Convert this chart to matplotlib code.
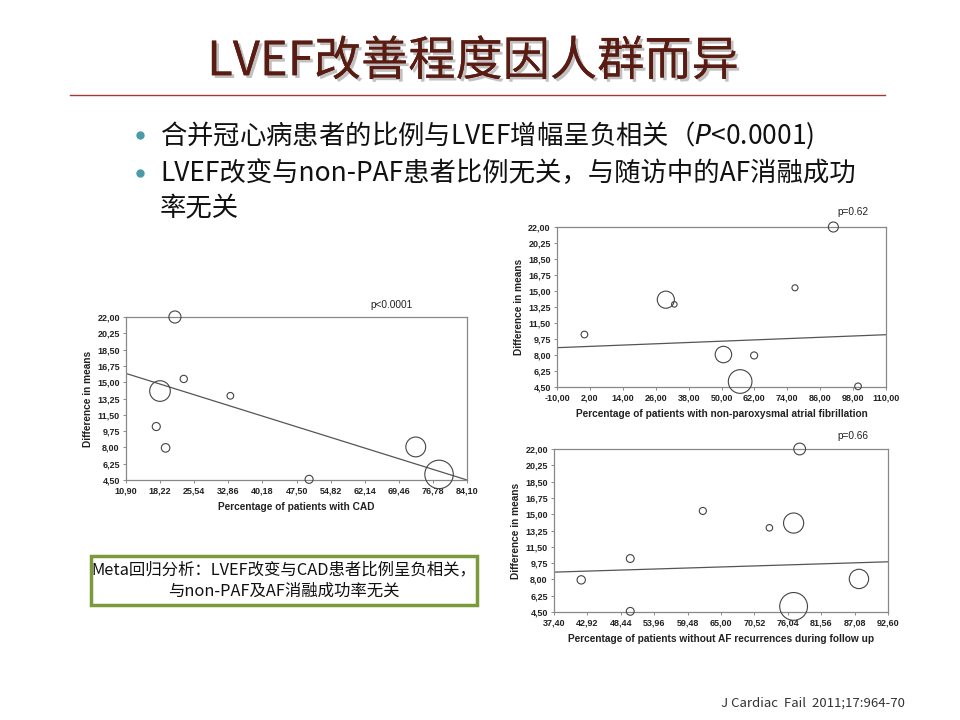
import numpy as np
import matplotlib
matplotlib.use('Agg')
import matplotlib.pyplot as plt
from matplotlib.patches import Rectangle
import matplotlib.patheffects as pe

plt.rcParams['font.family'] = ['Noto Sans CJK SC', 'DejaVu Sans']

# studies (same 9 studies in every panel)
diff_means = [22.00, 15.35, 14.05, 13.54, 10.24, 8.05, 7.95, 5.10, 4.57]
weights = [36, 13, 105, 11, 16, 97, 18, 200, 16]
pct_cad = [21.4, 23.3, 18.2, 33.3, 17.4, 73.1, 19.4, 78.1, 50.2]
pct_nonpaf = [90.8, 76.8, 29.7, 32.8, 0.0, 50.7, 61.9, 56.8, 99.8]
pct_success = [78.0, 62.0, 77.0, 73.0, 50.0, 87.8, 41.9, 77.0, 50.0]

# regression lines (value at left and right edge of x range)
reg_cad = [15.94, 4.50]
reg_nonpaf = [8.80, 10.22]
reg_success = [8.78, 9.89]

yticks = [4.50, 6.25, 8.00, 9.75, 11.50, 13.25, 15.00, 16.75, 18.50, 20.25, 22.00]
xt_cad = [10.90, 18.22, 25.54, 32.86, 40.18, 47.50, 54.82, 62.14, 69.46, 76.78, 84.10]
xt_nonpaf = [-10, 2, 14, 26, 38, 50, 62, 74, 86, 98, 110]
xt_success = [37.40, 42.92, 48.44, 53.96, 59.48, 65.00, 70.52, 76.04, 81.56, 87.08, 92.60]

W, H = 960, 720
fig = plt.figure(figsize=(9.6, 7.2), dpi=100)
fig.patch.set_facecolor('white')

def px_rect(l, t, r, b):
    return [l / W, 1 - b / H, (r - l) / W, (b - t) / H]

def fmt(v):
    return ('%.2f' % v).replace('.', ',')

def panel(rect, xs, xticks, reg, xlabel, ptext, ptxt_xy, scale):
    ax = fig.add_axes(px_rect(*rect))
    ax.scatter(xs, diff_means, s=[w * scale for w in weights], facecolors='none',
               edgecolors='#444444', linewidths=0.8, clip_on=False, zorder=3)
    ax.plot([xticks[0], xticks[-1]], reg, color='#555555', lw=0.9)
    ax.set_xlim(xticks[0], xticks[-1])
    ax.set_ylim(yticks[0], yticks[-1])
    ax.set_xticks(xticks)
    ax.set_yticks(yticks)
    ax.set_xticklabels([fmt(v) for v in xticks])
    ax.set_yticklabels([fmt(v) for v in yticks])
    for lab in ax.get_xticklabels() + ax.get_yticklabels():
        lab.set_fontfamily('Liberation Sans')
        lab.set_fontweight('bold')
        lab.set_fontsize(6.5)
        lab.set_color('#222222')
    ax.tick_params(length=2.5, width=0.6, color='#777777', pad=2)
    for sp in ax.spines.values():
        sp.set_color('#888888')
        sp.set_linewidth(0.9)
    ax.set_xlabel(xlabel, fontfamily='Liberation Sans', fontweight='bold',
                  fontsize=7.3, color='#222222', labelpad=5)
    ax.set_ylabel('Difference in means', fontfamily='Liberation Sans',
                  fontweight='bold', fontsize=7.3, color='#222222', labelpad=3)
    fig.text(ptxt_xy[0] / W, 1 - ptxt_xy[1] / H, ptext, fontfamily='Liberation Sans',
             fontsize=7.3, color='#222222', ha='right', va='center')
    return ax

panel((126, 317, 467, 480), pct_cad, xt_cad, reg_cad,
      'Percentage of patients with CAD', 'p<0.0001', (413, 305), 2.1)
panel((557, 227, 886, 387), pct_nonpaf, xt_nonpaf, reg_nonpaf,
      'Percentage of patients with non-paroxysmal atrial fibrillation', 'p=0.62', (868, 212), 1.45)
panel((554, 449, 888, 612), pct_success, xt_success, reg_success,
      'Percentage of patients without AF recurrences during follow up', 'p=0.66', (868, 436), 2.0)

# title
fig.text(473 / W, 1 - 62 / H, 'LVEF改善程度因人群而异', fontsize=34, color='#5a1c12',
         ha='center', va='center',
         path_effects=[pe.withSimplePatchShadow(offset=(2, -2), shadow_rgbFace='#999999', alpha=0.6),
                       pe.Normal()])
fig.add_artist(plt.Line2D([70 / W, 885 / W], [1 - 95 / H, 1 - 95 / H], color='#a03a32', lw=1.0))

# bullets
bullets = [('合并冠心病患者的比例与LVEF增幅呈负相关（$\\it{P}$<0.0001)', 135),
           ('LVEF改变与non-PAF患者比例无关，与随访中的AF消融成功', 173)]
for txt, y in bullets:
    fig.add_artist(plt.Line2D([140 / W], [1 - y / H], marker='o', markersize=5,
                              color='#4a9aa8', linestyle='none'))
    fig.text(160 / W, 1 - y / H, txt, fontsize=19, color='#111111', ha='left', va='center')
fig.text(160 / W, 1 - 209 / H, '率无关', fontsize=19, color='#111111', ha='left', va='center')

# summary box
fig.add_artist(Rectangle((91 / W, 1 - 605 / H), 386 / W, 49 / H, transform=fig.transFigure,
                         facecolor='white', edgecolor='#7a9a3c', lw=2.5))
fig.text(284 / W, 1 - 570 / H, 'Meta回归分析：LVEF改变与CAD患者比例呈负相关，', fontsize=11.8,
         color='#111111', ha='center', va='center')
fig.text(284 / W, 1 - 591 / H, '与non-PAF及AF消融成功率无关', fontsize=11.8,
         color='#111111', ha='center', va='center')

fig.text(905 / W, 1 - 703 / H, 'J Cardiac  Fail  2011;17:964-70', fontsize=9.5,
         color='#333333', ha='right', va='center')

fig.savefig('out.png', dpi=100)
